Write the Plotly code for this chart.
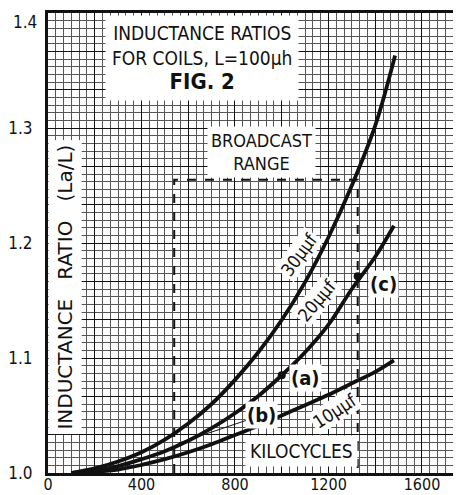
import plotly.graph_objects as go

# ---- data ----
kc_30 = [100, 200, 300, 400, 500, 600, 700, 800, 900, 1000, 1100, 1200, 1300, 1400, 1485]
ratio_30 = [1.000, 1.004, 1.010, 1.018, 1.029, 1.043, 1.060, 1.081, 1.105, 1.133, 1.166, 1.205, 1.250, 1.302, 1.363]

kc_20 = [100, 200, 300, 400, 500, 600, 700, 800, 900, 1000, 1100, 1200, 1300, 1400, 1480]
ratio_20 = [1.000, 1.002, 1.006, 1.012, 1.019, 1.028, 1.039, 1.052, 1.067, 1.085, 1.105, 1.129, 1.160, 1.188, 1.215]

kc_10 = [100, 200, 300, 400, 500, 600, 700, 800, 900, 1000, 1100, 1200, 1300, 1400, 1480]
ratio_10 = [1.000, 1.001, 1.003, 1.007, 1.012, 1.018, 1.025, 1.033, 1.041, 1.050, 1.059, 1.068, 1.078, 1.088, 1.098]

broadcast_kc = [540, 1325]
broadcast_top = 1.255

point_kc = [1000, 1325]          # points (a) and (c) on the 20 uuf curve
point_ratio = [1.085, 1.171]
point_b = (560, 1.026)

x_tickvals = [0, 200, 400, 600, 800, 1000, 1200, 1400, 1600]
x_ticktext = ["0", "", "400", "", "800", "", "1200", "", "1600"]
y_tickvals = [round(1.0 + i / 30, 5) for i in range(13)]
y_ticktext = ["1.0", "", "", "1.1", "", "", "1.2", "", "", "1.3", "", "", ""]
y_top_label = "1.4"

FONT = "Liberation Sans Narrow, DejaVu Sans Condensed, Arial Narrow, sans-serif"
WIDE = "DejaVu Sans, sans-serif"
INK = "#111"

fig = go.Figure()

# broadcast range bracket
fig.add_trace(go.Scatter(
    x=[broadcast_kc[0], broadcast_kc[0], broadcast_kc[1], broadcast_kc[1]],
    y=[1.0, broadcast_top, broadcast_top, 1.0],
    mode="lines", line=dict(color=INK, width=2, dash="dash"),
    hoverinfo="skip", showlegend=False))

for kx, ry in [(kc_30, ratio_30), (kc_20, ratio_20), (kc_10, ratio_10)]:
    fig.add_trace(go.Scatter(x=kx, y=ry, mode="lines",
                             line=dict(color=INK, width=3.8, shape="spline", smoothing=1.0),
                             showlegend=False))

fig.add_trace(go.Scatter(x=point_kc, y=point_ratio, mode="markers",
                         marker=dict(color=INK, size=8), showlegend=False))

def label(x, y, text, size=18, angle=0, bg="white", xref="x", yref="y", pad=2, family=FONT, **kw):
    fig.add_annotation(x=x, y=y, xref=xref, yref=yref, text=text, showarrow=False,
                       textangle=angle, bgcolor=bg, borderpad=pad,
                       font=dict(family=family, size=size, color=INK), **kw)

# title box
label(660, 1.361,
      "INDUCTANCE RATIOS<br>FOR COILS, L=100μh<br><b><span style='font-size:22px'>FIG. 2</span></b>",
      size=19, pad=6)
label(912, 1.279, "BROADCAST<br>RANGE", size=18, pad=3)
label(72, 1.162, "INDUCTANCE   RATIO   (La/L)", size=20, angle=-90, pad=4, family=WIDE)
label(1084, 1.019, "KILOCYCLES", size=19, pad=4)
label(1074, 1.190, "30μμf", size=18, angle=-54, pad=1)
label(1150, 1.150, "20μμf", size=18, angle=-50, pad=1)
label(1230, 1.054, "10μμf", size=18, angle=-33, pad=1)
label(1100, 1.083, "<b>(a)</b>", size=20, pad=1)
label(1435, 1.164, "<b>(c)</b>", size=20, pad=1)
fig.add_annotation(x=point_b[0], y=point_b[1], ax=83, ay=-28, text="<b>(b)</b>",
                   showarrow=True, arrowhead=0, arrowwidth=1, arrowcolor=INK,
                   bgcolor="white", borderpad=1,
                   font=dict(family=FONT, size=20, color=INK))
# top tick label sits just under the frame, as in the original
label(0, 1.4, y_top_label, size=17, bg="rgba(0,0,0,0)", xref="paper", pad=0,
      xanchor="right", yanchor="top", xshift=-10, yshift=2)

# page body has an 8px default margin: figure occupies 453x487 starting at (8, 8)
fig.update_layout(
    width=453, height=487,
    margin=dict(l=40, r=0, t=5, b=22, autoexpand=False),
    paper_bgcolor="white", plot_bgcolor="white",
    font=dict(family=FONT, size=18, color=INK),
    xaxis=dict(range=[0, 1767], tickmode="array", tickvals=x_tickvals, ticktext=x_ticktext,
               automargin=False,
               showgrid=True, gridcolor="#111", gridwidth=1.4,
               minor=dict(tickmode="linear", tick0=0, dtick=400 / 12, showgrid=True,
                          gridcolor="#555", gridwidth=1),
               showline=True, linecolor=INK, linewidth=2.5, mirror=True,
               ticks="", zeroline=False, ticklabelstandoff=-5,
               tickfont=dict(family=FONT, size=16, color=INK)),
    yaxis=dict(range=[1.0, 1.4], tickmode="array", tickvals=y_tickvals, ticktext=y_ticktext,
               automargin=False,
               showgrid=True, gridcolor="#111", gridwidth=1.4,
               minor=dict(tickmode="linear", tick0=1.0, dtick=0.1 / 15, showgrid=True,
                          gridcolor="#555", gridwidth=1),
               showline=True, linecolor=INK, linewidth=3,
               ticks="outside", ticklen=9, tickcolor="rgba(0,0,0,0)", zeroline=False,
               tickfont=dict(family=FONT, size=17, color=INK)),
)

fig.write_html("out.html")
